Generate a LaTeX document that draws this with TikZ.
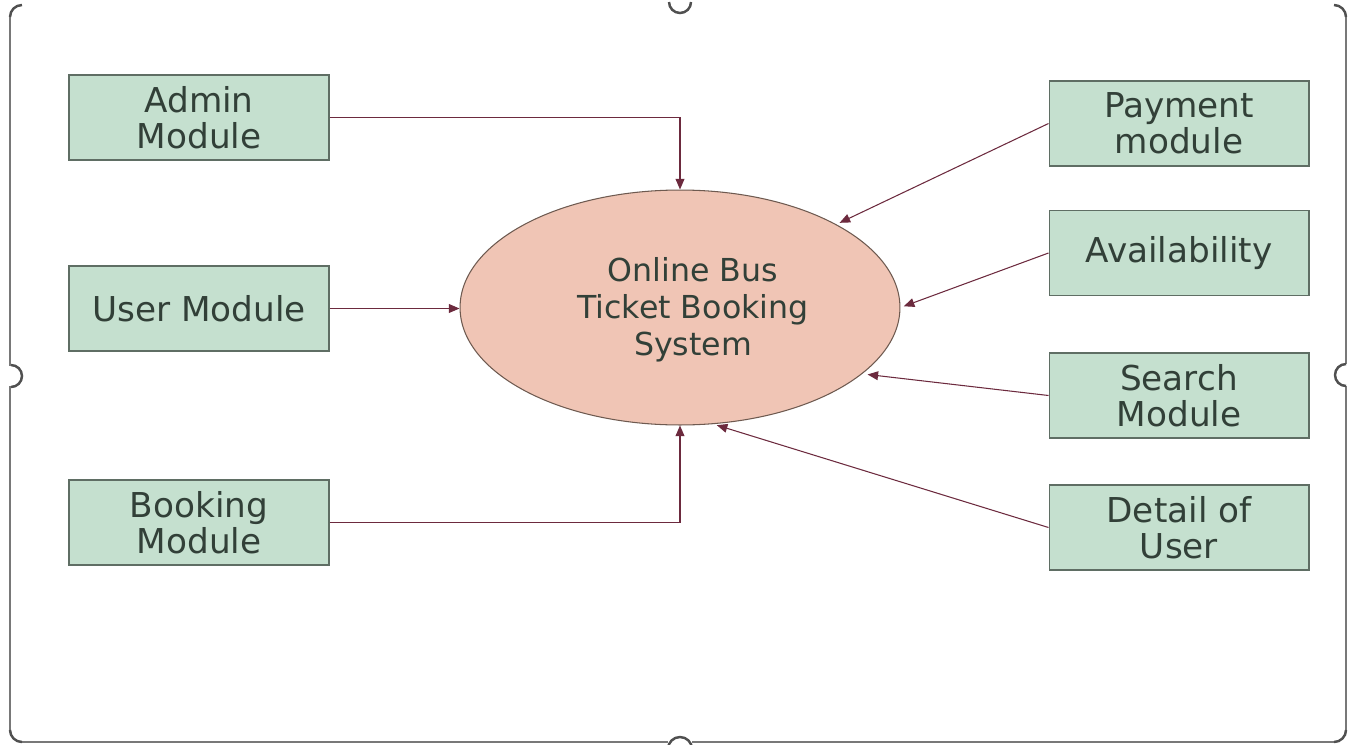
\documentclass[tikz,border=0pt]{standalone}
\usepackage{fontspec}
\setmainfont{DejaVu Sans}
\usetikzlibrary{shapes.geometric,arrows.meta}

\definecolor{boxgreen}{RGB}{197,224,207}
\definecolor{boxline}{RGB}{95,110,100}
\definecolor{bubble}{RGB}{240,197,181}
\definecolor{bubbleline}{RGB}{110,90,80}
\definecolor{flow}{RGB}{108,42,62}
\definecolor{labelgray}{RGB}{50,64,56}
\definecolor{framegray}{RGB}{120,120,120}
\definecolor{handlegray}{RGB}{80,80,80}

\tikzset{
    module/.style={draw=boxline, fill=boxgreen, line width=0.6pt,
        minimum width=5.2cm, minimum height=1.7cm, inner sep=0pt,
        align=center, text=labelgray, font=\fontsize{19.5}{20.5}\selectfont},
    system/.style={ellipse, draw=bubbleline, fill=bubble, line width=0.6pt,
        minimum width=8.8cm, minimum height=4.7cm, inner sep=0pt},
    systext/.style={align=center, text=labelgray, font=\fontsize{18}{21}\selectfont},
    flowline/.style={draw=flow, line width=0.6pt, -{Triangle[length=6pt,width=5pt]}},
    handle/.style={draw=handlegray, line width=1.4pt},
}

\begin{document}
\begin{tikzpicture}[x=0.02cm, y=-0.02cm]

    \useasboundingbox (0,0) rectangle (1356,744);

    % Frame round the picture
    \draw[framegray, line width=0.9pt] (10,17) -- (10,366);
    \draw[framegray, line width=0.9pt] (10,386) -- (10,730);
    \draw[framegray, line width=0.9pt] (22,742) -- (668,742);
    \draw[framegray, line width=0.9pt] (692,742) -- (1334,742);
    \draw[framegray, line width=0.9pt] (1346,730) -- (1346,386);
    \draw[framegray, line width=0.9pt] (1346,364) -- (1346,17);

    % Sizing handles (y runs downwards, so angle 90 points down)
    \draw[handle] (10,17) arc[start angle=180, end angle=270, radius=12];
    \draw[handle] (1334,5) arc[start angle=270, end angle=360, radius=12];
    \draw[handle] (10,730) arc[start angle=180, end angle=90, radius=12];
    \draw[handle] (1346,730) arc[start angle=0, end angle=90, radius=12];
    \draw[handle] (669,2) arc[start angle=180, end angle=0, radius=11];
    \draw[handle] (11,365) arc[start angle=-90, end angle=90, radius=11];
    \draw[handle] (1346,364) arc[start angle=-90, end angle=-270, radius=11];
    \draw[handle] (668,749) arc[start angle=180, end angle=360, radius=12];

    % The system
    \node[system] (sys) at (680,307.5) {};
    \node[systext] (sysname) at ([xshift=0.26cm, yshift=-0.05cm]sys.center)
        {Online Bus\\Ticket Booking\\System};

    % Modules on the left
    \node[module] (admin) at (199,117.5) {Admin\\Module};
    \node[module] (user) at (199,308.5) {User Module};
    \node[module] (booking) at (199,522.5) {Booking\\Module};

    % Modules on the right
    \node[module] (payment) at (1179,123.5) {Payment\\module};
    \node[module] (avail) at (1179,253) {Availability};
    \node[module] (search) at (1179,395.5) {Search\\Module};
    \node[module] (detail) at (1179,527.5) {Detail of\\User};

    % Flows into the system
    \draw[flowline] (admin.east) -| (sys.north);
    \draw[flowline] (user.east) -- (user.east -| sys.west);
    \draw[flowline] (booking.east) -| (sys.south);

    \draw[flowline, shorten >=2pt] (payment.west) -- (sys.28);
    \draw[flowline, shorten >=2pt] (avail.west) -- (sys.0);
    \draw[flowline, shorten >=3pt] (search.west) -- (sys.-20);
    \draw[flowline, shorten >=2pt] (detail.west) -- (sys.-74);

\end{tikzpicture}
\end{document}
